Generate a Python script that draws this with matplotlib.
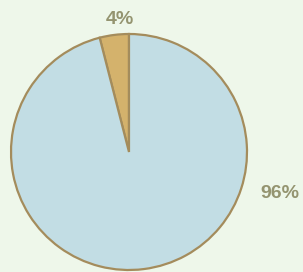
import matplotlib.pyplot as plt

# 数据
shares = [4, 96]
labels = ['4%', '96%']
colors = ['#d4b26c', '#c2dde4']

BG = '#eef7ea'
EDGE = '#a48c5c'
TEXT = '#949470'

fig = plt.figure(figsize=(3.03, 2.72), dpi=100, facecolor=BG)
ax = fig.add_axes([0, 0, 1, 1])
ax.set_facecolor(BG)

# 饼图（从12点钟方向逆时针）
ax.pie(shares, colors=colors, startangle=90, counterclock=True,
       center=(129, 120), radius=118,
       wedgeprops=dict(edgecolor=EDGE, linewidth=1.6))

ax.set_xlim(0, 303)
ax.set_ylim(0, 272)
ax.set_aspect('equal')
ax.axis('off')

# 百分比标签
ax.text(120, 252, labels[0], ha='center', va='center', fontsize=14,
        fontweight='bold', color=TEXT, family='Liberation Sans')
ax.text(280, 79, labels[1], ha='center', va='center', fontsize=14,
        fontweight='bold', color=TEXT, family='Liberation Sans')

plt.savefig('out.png', dpi=100, facecolor=BG)
